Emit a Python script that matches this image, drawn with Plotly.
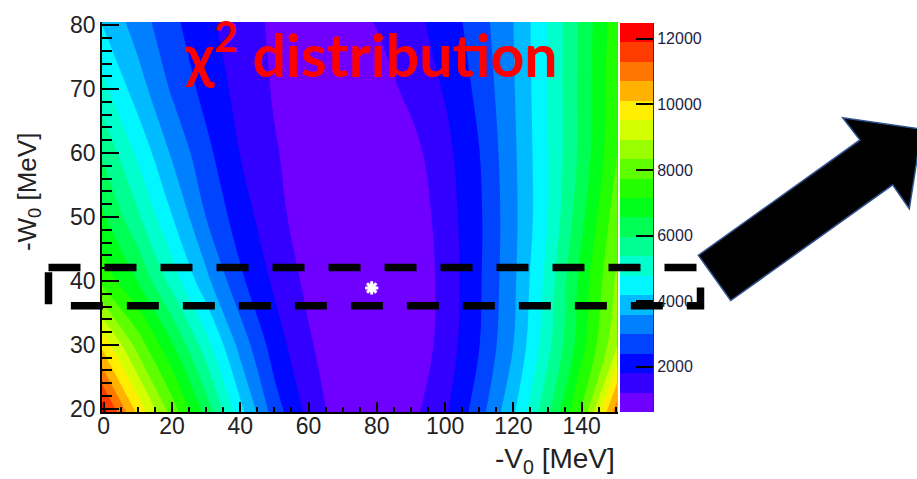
import plotly.graph_objects as go

# ---------------- data ----------------
V0 = [-0.5, 10, 20, 30, 40, 50, 60, 70, 80, 90, 100, 110, 120, 130, 140, 150.5]   # -V0 [MeV]
W0 = [19.5, 30, 40, 50, 60, 70, 80.5]                                             # -W0 [MeV]
chi2_w20 = [12250, 9965, 8075, 6341, 4376, 2696, 1624, 860, 720, 1030, 1705, 2726, 4091, 5814, 7838, 11100]
chi2_w30 = [9950, 8070, 6617, 5013, 3368, 2098, 1300, 720, 670, 710, 1472, 2379, 3585, 5155, 6915, 8881]
chi2_w40 = [7554, 6520, 5136, 3747, 2520, 1698, 1060, 720, 640, 710, 1420, 2321, 3464, 4980, 6778, 8459]
chi2_w50 = [6670, 5463, 4202, 2981, 2076, 1424, 870, 740, 680, 760, 1510, 2301, 3420, 4743, 6398, 8131]
chi2_w60 = [5899, 4650, 3502, 2560, 1790, 1261, 930, 780, 760, 994, 1619, 2383, 3464, 4741, 6139, 7750]
chi2_w70 = [4969, 3867, 2911, 2195, 1611, 1159, 900, 820, 920, 1376, 1858, 2552, 3535, 4758, 6128, 7670]
chi2_w80 = [4150, 3289, 2552, 1934, 1498, 1100, 900, 950, 1250, 1621, 2066, 2722, 3585, 4771, 6105, 7550]
CHI2 = [chi2_w20, chi2_w30, chi2_w40, chi2_w50, chi2_w60, chi2_w70, chi2_w80]

Z_MIN, Z_MAX, N_BANDS = 620, 12480, 20
BEST_V = [78.5]
BEST_W = [38.9]
SEL_W = [36.1, 42.1]            # selected -W0 band (dashed box)
CB_TICKS = [2000, 4000, 6000, 8000, 10000, 12000]
X_TICKS = [0, 20, 40, 60, 80, 100, 120, 140]
Y_TICKS = [20, 30, 40, 50, 60, 70, 80]

PALETTE = ['#6F00FF', '#3300FF', '#0008FF', '#0044FF', '#007FFF', '#00BBFF', '#00F7FF',
           '#00FFCC', '#00FF90', '#00FF55', '#00FF19', '#22FF00', '#5DFF00', '#99FF00',
           '#D4FF00', '#FFEE00', '#FFB200', '#FF7700', '#FF3C00', '#FF0000']

# ---------------- geometry helpers (pixels of a 917x479 page) ----------------
W_FIG, H_FIG = 917, 479
L, R, T, B = 102, 653, 15, 411.7
PW, PH = R - L, B - T


def px(x):
    return (x - L) / PW


def py(y):
    return (B - y) / PH


step = (Z_MAX - Z_MIN) / N_BANDS
cscale = [[k / (N_BANDS - 1), c] for k, c in enumerate(PALETTE)]

fig = go.Figure()

fig.add_trace(go.Contour(
    x=V0, y=W0, z=CHI2,
    colorscale=cscale,
    contours=dict(coloring='fill', start=Z_MIN + step, end=Z_MIN + step * (N_BANDS - 1), size=step),
    line=dict(width=0),
    showscale=False,
    hoverinfo='skip',
    xaxis='x', yaxis='y',
))

fig.add_trace(go.Scatter(
    x=BEST_V, y=BEST_W, mode='markers',
    marker=dict(symbol='asterisk-open', size=11, color='white', line=dict(color='white', width=3)),
    showlegend=False, xaxis='x', yaxis='y',
))

# palette (colour bar) drawn as a one-column heatmap
band_mid = [Z_MIN + step * (k + 0.5) for k in range(N_BANDS)]
fig.add_trace(go.Heatmap(
    x=[0], y=band_mid, z=[[v] for v in band_mid],
    colorscale=cscale, zmin=band_mid[0], zmax=band_mid[-1],
    showscale=False, hoverinfo='skip',
    xaxis='x2', yaxis='y2',
))

tickfont = dict(family='Liberation Sans, Arial, sans-serif', size=23, color='#222222')

fig.update_layout(
    width=W_FIG, height=H_FIG,
    margin=dict(l=L, r=W_FIG - R, t=T, b=H_FIG - B),
    paper_bgcolor='white', plot_bgcolor='white',
    showlegend=False,
    xaxis=dict(domain=[0, px(617.5)], range=[-0.5, 150.5], tickvals=X_TICKS,
               ticks='inside', ticklen=10, tickwidth=1.5, tickcolor='black',
               minor=dict(dtick=5, ticks='inside', ticklen=5, tickwidth=1.5, tickcolor='black'),
               showline=True, linecolor='black', linewidth=1.5, showgrid=False, zeroline=False,
               tickfont=tickfont, anchor='y', ticklabelstandoff=-7),
    yaxis=dict(domain=[0, 1], range=[19.5, 80.5], tickvals=Y_TICKS,
               ticks='inside', ticklen=17, tickwidth=1.5, tickcolor='black',
               minor=dict(dtick=2, ticks='inside', ticklen=10, tickwidth=1.5, tickcolor='black'),
               showline=True, linecolor='black', linewidth=1.5, showgrid=False, zeroline=False,
               tickfont=tickfont, anchor='x'),
    xaxis2=dict(domain=[px(620), 1], range=[-0.5, 0.5], visible=False, anchor='y2'),
    yaxis2=dict(domain=[0, py(16)], range=[Z_MIN, Z_MAX], side='right', anchor='x2',
                tickvals=CB_TICKS, tickformat='d', ticks='inside', ticklen=17, tickwidth=1.5,
                tickcolor='black',
                showline=True, linecolor='#333333', linewidth=1, showgrid=False, zeroline=False,
                tickfont=dict(family='Liberation Sans, Arial, sans-serif', size=16, color='#222244')),
)

# dashed selection box around the best -W0 band
fig.add_shape(type='rect', xref='paper', yref='paper',
              x0=px(48.5), x1=px(700.5),
              y0=(SEL_W[1] - 19.5) / 61.0, y1=(SEL_W[0] - 19.5) / 61.0,
              line=dict(color='black', width=7.5, dash='32px,24px'), layer='above')

# big block arrow
arrow_px = [(698.3, 252.3), (860, 135), (842.7, 112.3), (921.7, 124),
            (909.3, 205), (892.7, 180.7), (730.7, 298.3)]
path = 'M ' + ' L '.join(f'{px(x):.5f},{py(y):.5f}' for x, y in arrow_px) + ' Z'
fig.add_shape(type='path', xref='paper', yref='paper', path=path,
              fillcolor='black', line=dict(color='#2F528F', width=1.5), layer='above')

# texts
fig.add_annotation(xref='paper', yref='paper', x=px(182), y=py(86), xanchor='left', yanchor='bottom',
                   text='χ<sup>2</sup> distribution', showarrow=False,
                   font=dict(family='Lato, Carlito, sans-serif', size=59, color='#FF0000', weight='bold'))
fig.add_annotation(xref='paper', yref='paper', x=px(617), y=py(461), xanchor='right', yanchor='middle',
                   text='-V<sub>0</sub> [MeV]', showarrow=False,
                   font=dict(family='Liberation Sans, Arial, sans-serif', size=28, color='#222222'))
fig.add_annotation(xref='paper', yref='paper', x=px(28), y=py(188), xanchor='center', yanchor='middle',
                   text='-W<sub>0</sub> [MeV]', textangle=-90, showarrow=False,
                   font=dict(family='Liberation Sans, Arial, sans-serif', size=26, color='#222222'))

fig.write_html('out.html')
